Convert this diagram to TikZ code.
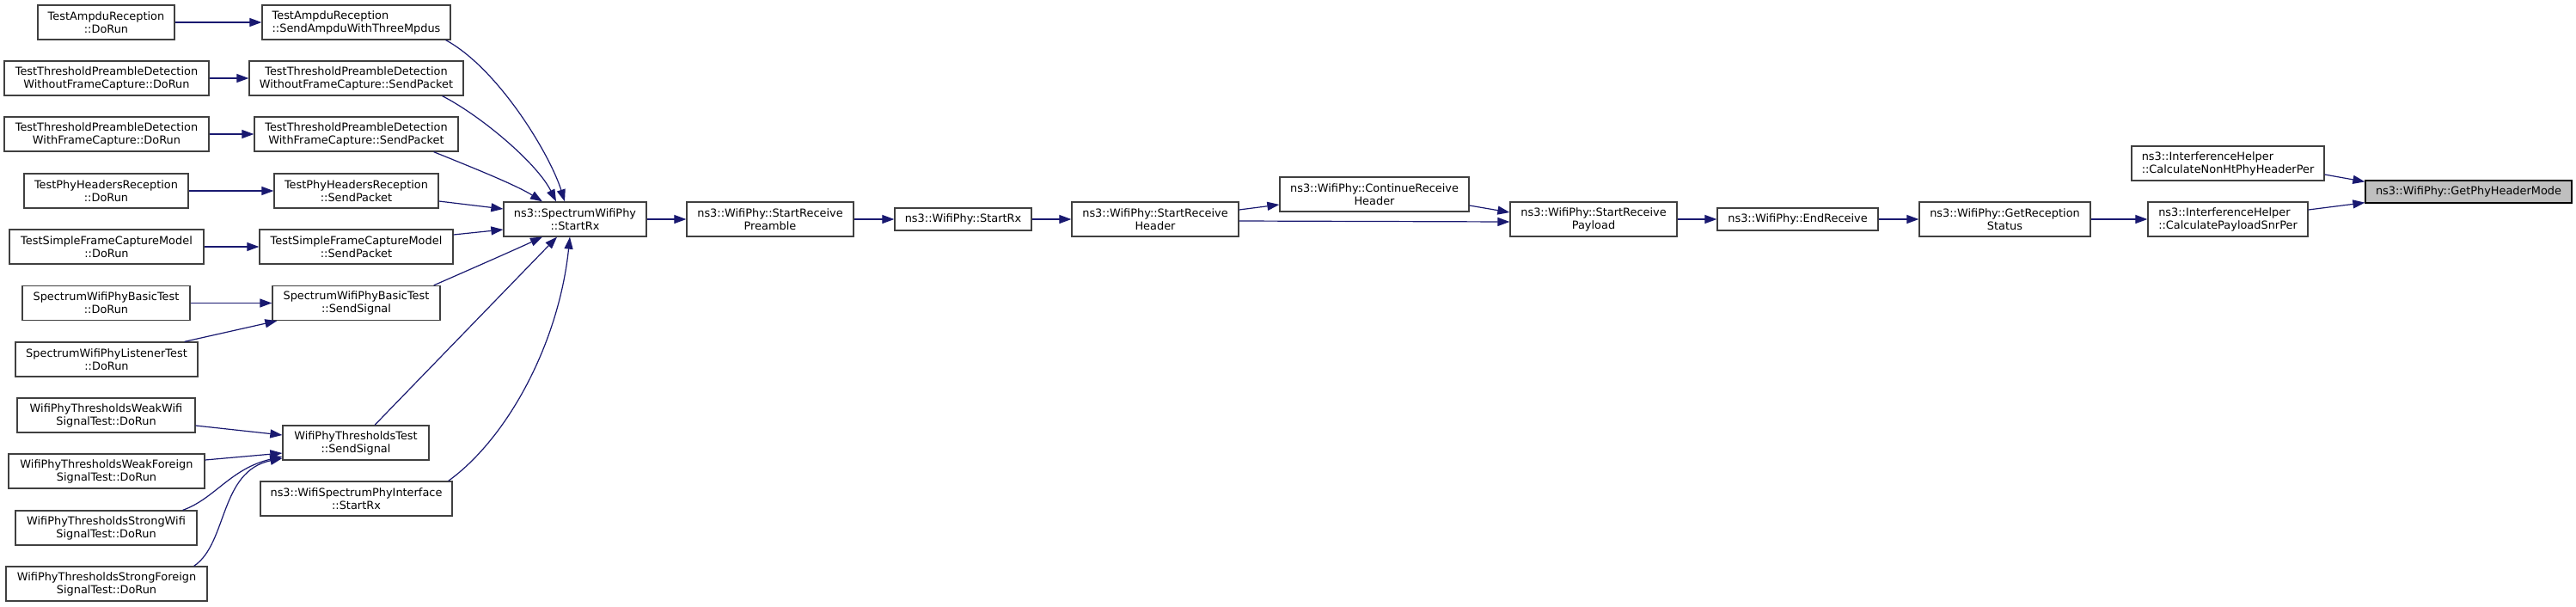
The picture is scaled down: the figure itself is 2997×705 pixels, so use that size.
\documentclass[tikz,border=0pt]{standalone}
\usepackage{fontspec}
\setmainfont{DejaVu Sans}
\usetikzlibrary{arrows.meta}
\definecolor{edgeblue}{HTML}{191970}
\definecolor{boxgray}{HTML}{404040}
\definecolor{hlgray}{HTML}{BFBFBF}
\tikzset{
  fn/.style={draw=boxgray, line width=1.3pt, fill=white, rectangle, inner sep=0pt,
    minimum height=40pt, align=center, font=\fontsize{12.9pt}{15pt}\selectfont},
  fnl/.style={fn, align=left},
  call/.style={draw=edgeblue, line width=1.2pt, -{Triangle[length=14pt,width=10pt]}},
}
\begin{document}
\begin{tikzpicture}[x=1pt,y=-1pt]
\useasboundingbox (0,0) rectangle (2997,705);
% column a
\node[fn, minimum width=159pt] (a1) at (123.5,26) {TestAmpduReception\\::DoRun};
\node[fn, minimum width=238pt] (a2) at (124,91) {TestThresholdPreambleDetection\\WithoutFrameCapture::DoRun};
\node[fn, minimum width=238pt] (a3) at (124,156) {TestThresholdPreambleDetection\\WithFrameCapture::DoRun};
\node[fn, minimum width=191pt] (a4) at (123.5,222) {TestPhyHeadersReception\\::DoRun};
\node[fn, minimum width=226pt] (a5) at (124,287) {TestSimpleFrameCaptureModel\\::DoRun};
\node[fn, minimum width=195pt] (a6) at (123.5,352.5) {SpectrumWifiPhyBasicTest\\::DoRun};
\node[fn, minimum width=212pt] (a7) at (124,418) {SpectrumWifiPhyListenerTest\\::DoRun};
\node[fn, minimum width=207pt] (a8) at (123.5,483) {WifiPhyThresholdsWeakWifi\\SignalTest::DoRun};
\node[fn, minimum width=228pt] (a9) at (124,548) {WifiPhyThresholdsWeakForeign\\SignalTest::DoRun};
\node[fn, minimum width=211pt] (a10) at (123.5,614) {WifiPhyThresholdsStrongWifi\\SignalTest::DoRun};
\node[fn, minimum width=234pt] (a11) at (124,679) {WifiPhyThresholdsStrongForeign\\SignalTest::DoRun};
% column b
\node[fnl, minimum width=219pt] (b1) at (414.5,26) {TestAmpduReception\\::SendAmpduWithThreeMpdus};
\node[fn, minimum width=249pt] (b2) at (414.5,91) {TestThresholdPreambleDetection\\WithoutFrameCapture::SendPacket};
\node[fn, minimum width=237pt] (b3) at (414.5,156) {TestThresholdPreambleDetection\\WithFrameCapture::SendPacket};
\node[fn, minimum width=191pt] (b4) at (414.5,222) {TestPhyHeadersReception\\::SendPacket};
\node[fn, minimum width=225pt] (b5) at (414.5,287) {TestSimpleFrameCaptureModel\\::SendPacket};
\node[fn, minimum width=195pt] (b6) at (414.5,352.5) {SpectrumWifiPhyBasicTest\\::SendSignal};
\node[fn, minimum width=170pt] (b7) at (414,515) {WifiPhyThresholdsTest\\::SendSignal};
\node[fn, minimum width=223pt] (b8) at (414.5,580) {ns3::WifiSpectrumPhyInterface\\::StartRx};
% main chain
\node[fn, minimum width=166pt] (c) at (669,255) {ns3::SpectrumWifiPhy\\::StartRx};
\node[fn, minimum width=194pt] (d) at (896,255) {ns3::WifiPhy::StartReceive\\Preamble};
\node[fn, minimum width=159pt, minimum height=26pt] (e) at (1120.5,255) {ns3::WifiPhy::StartRx};
\node[fn, minimum width=194pt] (f) at (1344,255) {ns3::WifiPhy::StartReceive\\Header};
\node[fn, minimum width=220pt] (g) at (1599,226) {ns3::WifiPhy::ContinueReceive\\Header};
\node[fn, minimum width=194pt] (h) at (1854,255) {ns3::WifiPhy::StartReceive\\Payload};
\node[fn, minimum width=187pt, minimum height=26pt] (i) at (2091.5,255) {ns3::WifiPhy::EndReceive};
\node[fn, minimum width=199pt] (j) at (2332.5,255) {ns3::WifiPhy::GetReception\\Status};
\node[fnl, minimum width=224pt] (k) at (2592,190) {ns3::InterferenceHelper\\::CalculateNonHtPhyHeaderPer};
\node[fnl, minimum width=186pt] (l) at (2592,255) {ns3::InterferenceHelper\\::CalculatePayloadSnrPer};
\node[fn, draw=black, fill=hlgray, minimum width=240pt, minimum height=26pt] (m) at (2872,223) {ns3::WifiPhy::GetPhyHeaderMode};
% edges a -> b
\draw[call] (a1) -- (b1);
\draw[call] (a2) -- (b2);
\draw[call] (a3) -- (b3);
\draw[call] (a4) -- (b4);
\draw[call] (a5) -- (b5);
\draw[call] (a6) -- (b6);
\draw[call] ([xshift=-16pt]a7.north east) -- ([xshift=6pt]b6.south west);
\draw[call] ([yshift=-12pt]a8.east) -- ([yshift=9pt]b7.west);
\draw[call] ([yshift=13pt]a9.east) -- ([yshift=-12pt]b7.west);
\draw[call] ([xshift=-17pt]a10.north east) .. controls (250,580) and (268,545) .. ([yshift=-16pt]b7.west);
\draw[call] ([xshift=-16pt]a11.north east) .. controls (265,632) and (255,548) .. ([yshift=-18pt]b7.west);
% edges b -> c
\draw[call] ([xshift=-6pt]b1.south east) .. controls (580,80) and (640,180) .. ([xshift=-12pt]c.north);
\draw[call] ([xshift=-25pt]b2.south east) .. controls (560,135) and (625,190) .. ([xshift=-22pt]c.north);
\draw[call] ([xshift=-29pt]b3.south east) .. controls (550,195) and (600,215) .. ([xshift=-38pt]c.north);
\draw[call] ([yshift=-12pt]b4.east) -- ([yshift=12pt]c.west);
\draw[call] ([yshift=14pt]b5.east) -- ([yshift=-12pt]c.west);
\draw[call] ([xshift=-8pt]b6.north east) .. controls (550,312) and (600,290) .. ([xshift=-38pt]c.south);
\draw[call] ([xshift=22pt]b7.north) -- ([xshift=-21pt]c.south);
\draw[call] ([xshift=-5pt]b8.north east) .. controls (590,510) and (650,400) .. ([xshift=-6pt]c.south);
% main chain
\draw[call] (c) -- (d);
\draw[call] (d) -- (e);
\draw[call] (e) -- (f);
\draw[call] ([yshift=11pt]f.east) -- ([yshift=-12pt]g.west);
\draw[call] ([yshift=-2pt]f.east) -- ([yshift=-3pt]h.west);
\draw[call] ([yshift=-13pt]g.east) -- ([yshift=8pt]h.west);
\draw[call] (h) -- (i);
\draw[call] (i) -- (j);
\draw[call] (j) -- (l);
\draw[call] ([yshift=-13pt]k.east) -- ([yshift=-2pt]m.north west);
\draw[call] ([yshift=11pt]l.east) -- ([yshift=1pt]m.south west);
\end{tikzpicture}
\end{document}
